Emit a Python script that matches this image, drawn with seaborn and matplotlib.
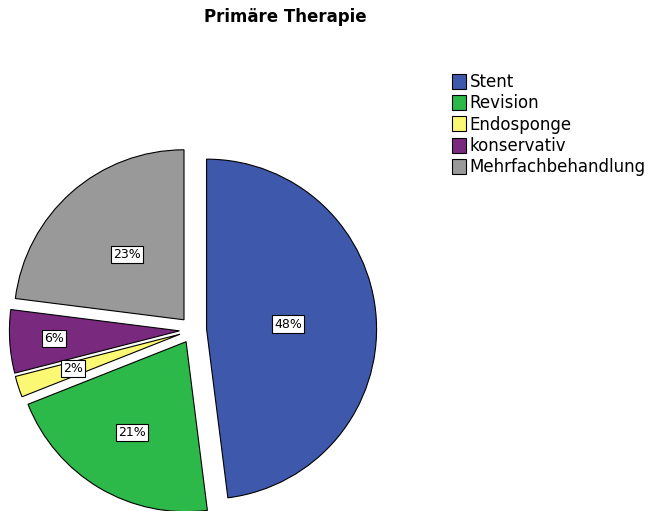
import numpy as np
import seaborn as sns
import matplotlib.pyplot as plt

# data
categories = ['Stent', 'Revision', 'Endosponge', 'konservativ', 'Mehrfachbehandlung']
shares = [48, 21, 2, 6, 23]
colors = ['#3e58ac', '#2db84a', '#fbf873', '#7a2a7e', '#999999']

sns.set_theme(style='white')
plt.rcParams['font.family'] = ['DejaVu Sans']

fig = plt.figure(figsize=(6.53, 5.11), dpi=100)
# pie axes: centre about (193, 330) px, radius about 170 px
ax = fig.add_axes([6/653, -6/511, 374/653, 374/511])

wedges, texts, autotexts = ax.pie(
    shares, colors=colors, startangle=90, counterclock=False,
    explode=[0.08] * len(shares), autopct='%1.0f%%', pctdistance=0.52,
    wedgeprops=dict(edgecolor='black', linewidth=0.8),
    textprops=dict(fontsize=9, color='black'))

# label distance from the wedge tip, as SPSS places them
label_dist = [0.48, 0.62, 0.66, 0.74, 0.51]
for w, t, d in zip(wedges, autotexts, label_dist):
    ang = np.deg2rad((w.theta1 + w.theta2) / 2)
    cx, cy = w.center
    t.set_position((cx + d * w.r * np.cos(ang), cy + d * w.r * np.sin(ang)))
    t.set_bbox(dict(facecolor='white', edgecolor='black', linewidth=0.8, pad=1.5))

ax.set_xlim(-1.1, 1.1)
ax.set_ylim(-1.1, 1.1)
ax.set_aspect('equal')

fig.suptitle('Primäre Therapie', x=0.437, y=0.985, fontsize=12, fontweight='bold',
             color='black')

leg = fig.legend(wedges, categories, loc='upper left', bbox_to_anchor=(452/653, 1 - 73/511),
                 frameon=False, fontsize=12, handlelength=0.85, handleheight=1.0,
                 handletextpad=0.2, labelspacing=0.2, borderaxespad=0, borderpad=0)
for txt in leg.get_texts():
    txt.set_color('black')

fig.savefig('out.png', dpi=100)
